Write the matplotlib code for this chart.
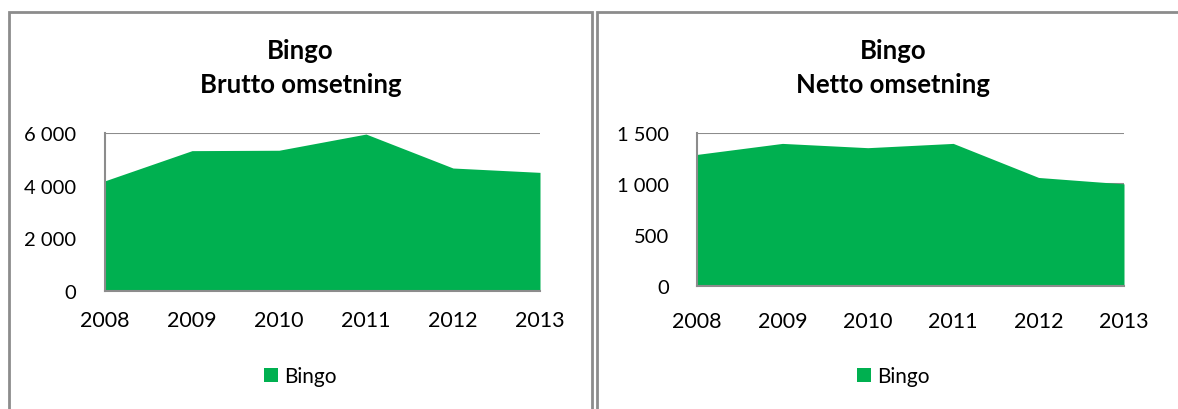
import matplotlib.pyplot as plt
from matplotlib.patches import Patch, Rectangle
from matplotlib.ticker import FuncFormatter

# --- Data ---
YEARS = [2008, 2009, 2010, 2011, 2012, 2013]
BRUTTO = [4185, 5330, 5345, 5960, 4670, 4505]
NETTO = [1290, 1398, 1356, 1398, 1064, 1001]
BRUTTO_TICKS = [0, 2000, 4000, 6000]
NETTO_TICKS = [0, 500, 1000, 1500]

GREEN = "#00B050"
GRAY = "#8C8C8C"
W, H = 1178, 410

plt.rcParams["font.family"] = ["Lato", "DejaVu Sans"]


def space_thousands(x, _):
    return f"{int(x):,}".replace(",", " ")


def draw_panel(fig, box, axes_box, values, ticks, subtitle, xpad, ypad):
    # panel frame (pixel coords -> figure fraction)
    x0, y0, x1, y1 = box
    fig.add_artist(Rectangle((x0 / W, 1 - y1 / H), (x1 - x0) / W, (y1 - y0) / H,
                             transform=fig.transFigure, fill=False,
                             edgecolor=GRAY, linewidth=2))
    cx = (x0 + x1) / 2 / W
    fig.text(cx, 1 - 51 / H, "Bingo", ha="center", va="center",
             fontsize=18.5, fontweight="bold")
    fig.text(cx, 1 - 85 / H, subtitle, ha="center", va="center",
             fontsize=18.5, fontweight="bold")

    l, t, r, b = axes_box
    ax = fig.add_axes([l / W, 1 - b / H, (r - l) / W, (b - t) / H])
    ax.fill_between(range(len(YEARS)), values, 0, color=GREEN, linewidth=0, zorder=2)
    ax.set_xlim(0, len(YEARS) - 1)
    ax.set_ylim(ticks[0], ticks[-1])
    ax.set_xticks(range(len(YEARS)))
    ax.set_xticklabels([str(y) for y in YEARS])
    ax.set_yticks(ticks)
    ax.yaxis.set_major_formatter(FuncFormatter(space_thousands))
    ax.grid(axis="y", color=GRAY, linewidth=1.5, zorder=1)
    ax.set_axisbelow(True)
    for side in ("top", "right"):
        ax.spines[side].set_visible(False)
    for side in ("left", "bottom"):
        ax.spines[side].set_color(GRAY)
        ax.spines[side].set_linewidth(1.5)
    ax.tick_params(axis="x", length=0, pad=xpad, labelsize=15.5)
    ax.tick_params(axis="y", length=0, pad=ypad, labelsize=14.5)

    fig.legend(handles=[Patch(facecolor=GREEN, label="Bingo")],
               loc="center", bbox_to_anchor=(cx, 1 - 377 / H),
               frameon=False, fontsize=15, handlelength=0.65, handleheight=0.65,
               handletextpad=0.3)
    return ax


fig = plt.figure(figsize=(W / 100, H / 100), dpi=100)

draw_panel(fig, (9, 13, 592, 420), (105, 134, 540, 292),
           BRUTTO, BRUTTO_TICKS, "Brutto omsetning", xpad=14, ypad=21)
draw_panel(fig, (597, 13, 1190, 420), (697, 134, 1124, 287),
           NETTO, NETTO_TICKS, "Netto omsetning", xpad=18, ypad=20)

fig.savefig("out.png", dpi=100)
